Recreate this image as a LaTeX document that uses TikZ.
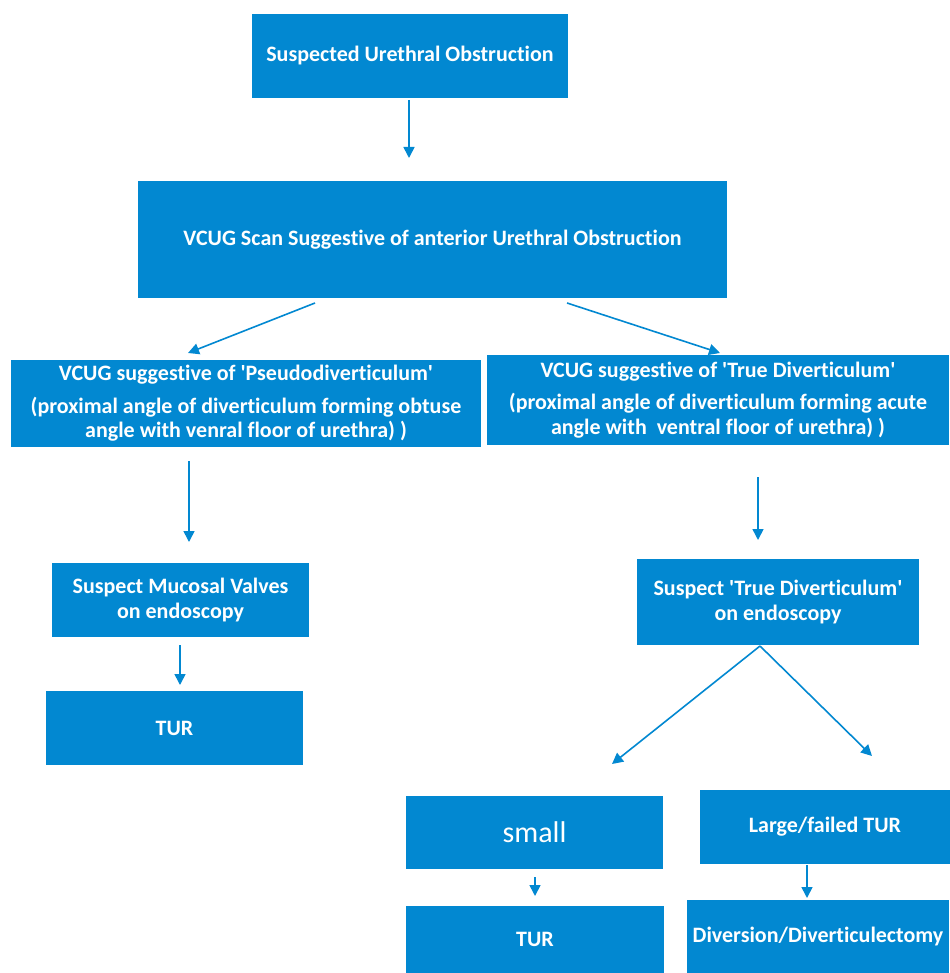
\documentclass[tikz,border=0pt]{standalone}
\usepackage{fontspec}
\setmainfont{Carlito}[Ligatures=NoCommon]
\usetikzlibrary{arrows.meta}
\definecolor{boxblue}{RGB}{2,136,209}
\newcommand{\sq}{\textquotesingle}
\tikzset{
  box/.style={fill=boxblue, draw=none, inner sep=2pt, align=center, text=white,
    font=\fontsize{22}{24.5}\selectfont\bfseries},
  arr/.style={draw=boxblue, line width=1.6pt, -{Triangle[length=11pt,width=11pt]}}
}
\begin{document}
\begin{tikzpicture}[x=1pt,y=-1pt]
\useasboundingbox (0,0) rectangle (949,973);
% boxes
\node[box, minimum width=316, minimum height=84] (top) at (410,56) {Suspected Urethral Obstruction};
\node[box, minimum width=589, minimum height=117] (scan) at (432.5,239.5) {VCUG Scan Suggestive of anterior Urethral Obstruction};
\node[box, minimum width=470, minimum height=87] (pseudo) at (246,403.5) {VCUG suggestive of \sq Pseudodiverticulum\sq\\[8pt](proximal angle of diverticulum forming obtuse\\angle with venral floor of urethra) )};
\node[box, minimum width=462, minimum height=90] (true) at (718,400) {VCUG suggestive of \sq True Diverticulum\sq\\[8pt](proximal angle of diverticulum forming acute\\angle with\ \ ventral floor of urethra) )};
\node[box, minimum width=257, minimum height=74] (mucosal) at (180.5,600) {Suspect Mucosal Valves\\on endoscopy};
\node[box, minimum width=257, minimum height=74] (turl) at (174.5,728) {TUR};
\node[box, minimum width=282, minimum height=86] (susptrue) at (778,602) {Suspect \sq True Diverticulum\sq\\on endoscopy};
\node[box, minimum width=257, minimum height=73, font=\fontsize{30}{32}\selectfont] (small) at (534.5,832.5) {small};
\node[box, minimum width=250, minimum height=74] (large) at (825,827) {Large/failed TUR};
\node[box, minimum width=258, minimum height=67] (turr) at (535,939.5) {TUR};
\node[box, minimum width=262, minimum height=73] (div) at (818,936.5) {Diversion/Diverticulectomy};
% arrow end points
\coordinate (a1s) at (409,100); \coordinate (a1e) at (409,158);
\coordinate (a2s) at (315,303); \coordinate (a2e) at (188,353);
\coordinate (a3s) at (567,303); \coordinate (a3e) at (720,353);
\coordinate (a4s) at (189,461); \coordinate (a4e) at (189,542);
\coordinate (a5s) at (758,477); \coordinate (a5e) at (758,540);
\coordinate (a6s) at (180,645); \coordinate (a6e) at (180,685);
\coordinate (a7s) at (760,646); \coordinate (a7e) at (612,764);
\coordinate (a8e) at (872,756);
\coordinate (a9s) at (535,877); \coordinate (a9e) at (535,896);
\coordinate (a10s) at (807,865); \coordinate (a10e) at (807,898);
% arrows
\draw[arr] (a1s) -- (a1e);
\draw[arr] (a2s) -- (a2e);
\draw[arr] (a3s) -- (a3e);
\draw[arr] (a4s) -- (a4e);
\draw[arr] (a5s) -- (a5e);
\draw[arr] (a6s) -- (a6e);
\draw[arr] (a7s) -- (a7e);
\draw[arr] (a7s) -- (a8e);
\draw[arr] (a9s) -- (a9e);
\draw[arr] (a10s) -- (a10e);
\end{tikzpicture}
\end{document}
